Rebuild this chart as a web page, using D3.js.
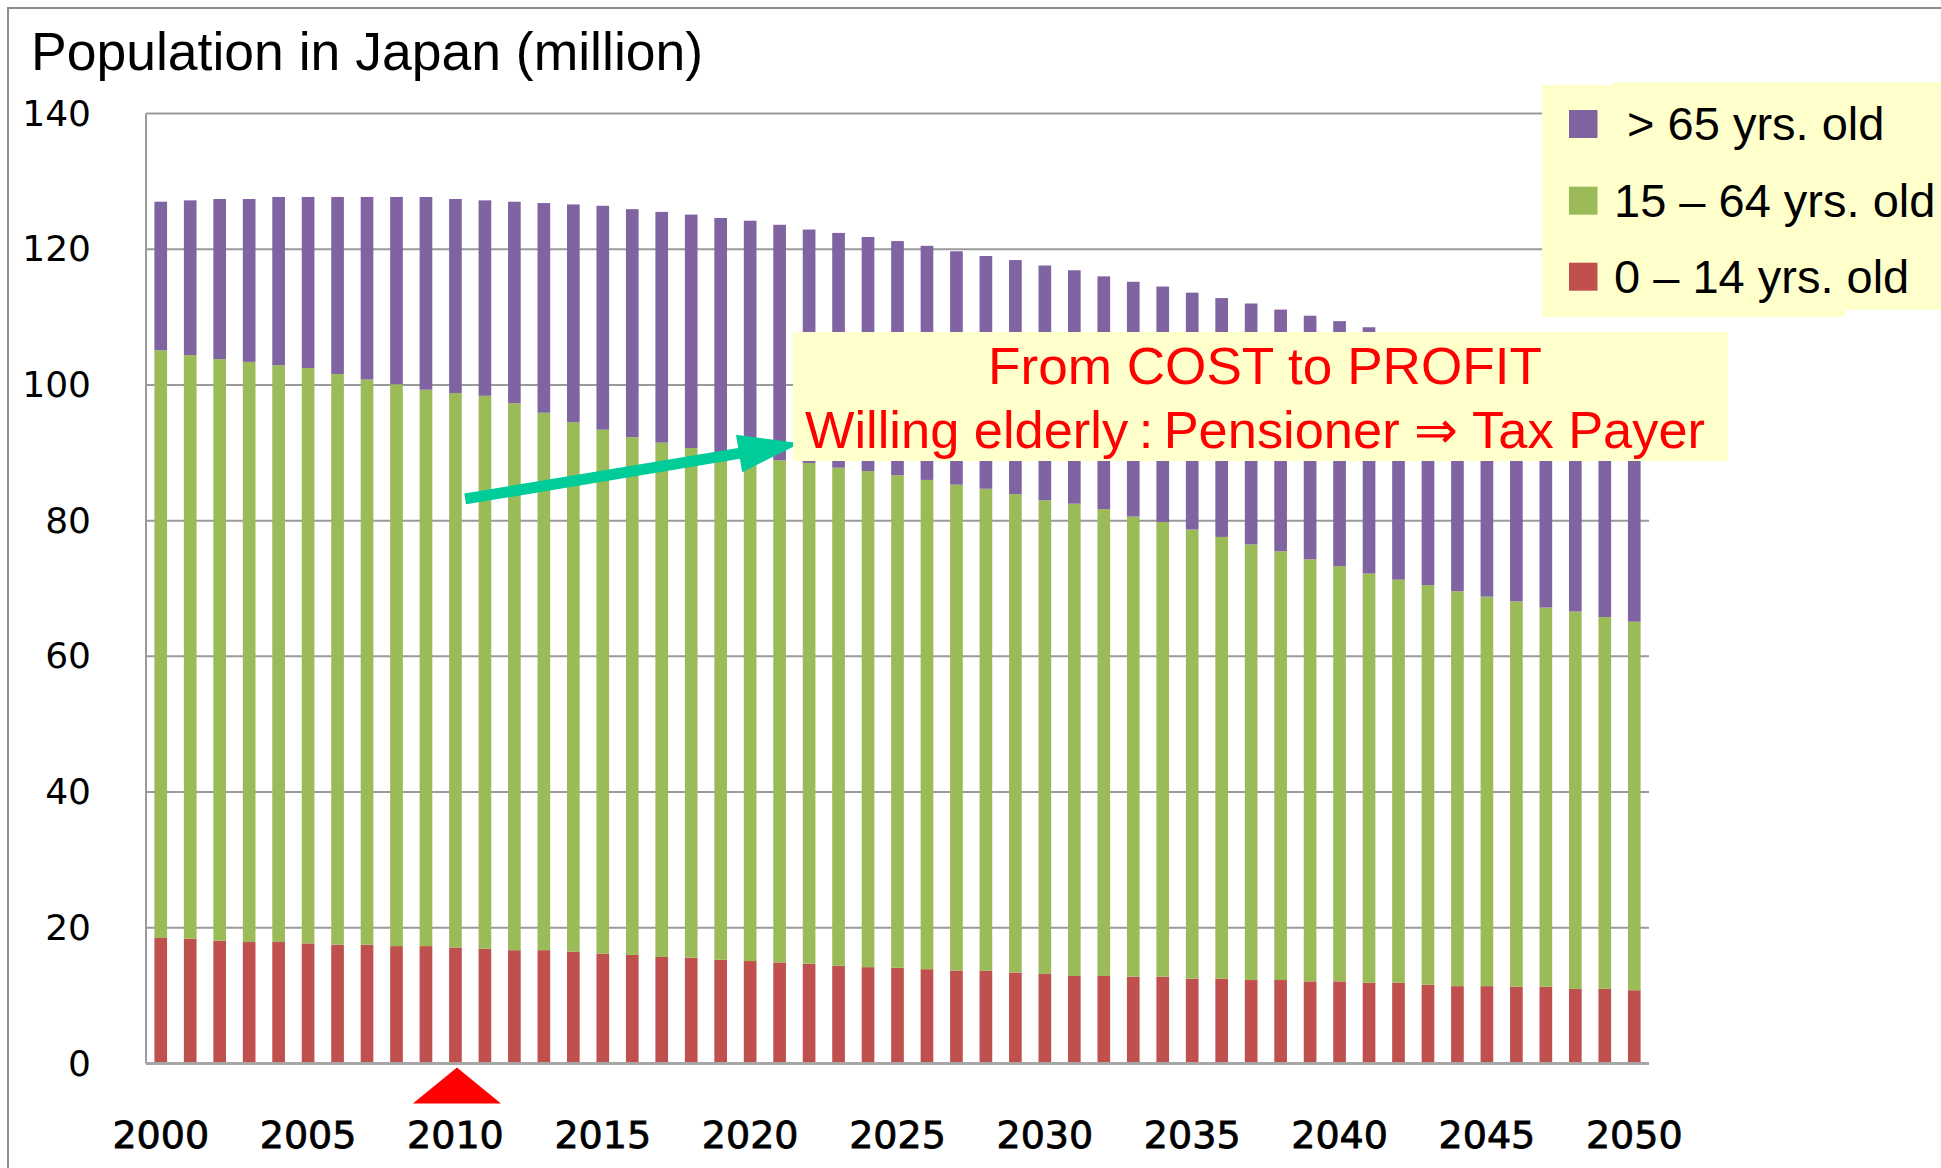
<!DOCTYPE html>
<html><head><meta charset="utf-8">
<script src="https://cdn.jsdelivr.net/npm/d3@7"></script>
<style>html,body{margin:0;padding:0;background:#fff;} svg{display:block}</style>
</head><body>
<svg id="chart" width="1941" height="1168"></svg>
<script>
// ---------- data (million persons) ----------
const years = [2000,2001,2002,2003,2004,2005,2006,2007,2008,2009,
  2010,2011,2012,2013,2014,2015,2016,2017,2018,2019,
  2020,2021,2022,2023,2024,2025,2026,2027,2028,2029,
  2030,2031,2032,2033,2034,2035,2036,2037,2038,2039,
  2040,2041,2042,2043,2044,2045,2046,2047,2048,2049,2050];
const age0to14 = [18.5,18.4,18.1,17.9,17.9,17.7,17.5,17.5,17.3,17.3,
  17.1,16.9,16.7,16.7,16.5,16.2,16.0,15.7,15.6,15.3,
  15.1,14.9,14.7,14.4,14.2,14.1,13.9,13.7,13.7,13.4,
  13.2,12.9,12.9,12.8,12.8,12.5,12.5,12.3,12.3,12.1,
  12.1,11.9,11.9,11.6,11.4,11.4,11.3,11.3,11.0,11.0,10.8];
const age15to64 = [86.6,86.0,85.7,85.5,85.0,84.8,84.1,83.3,82.8,82.0,
  81.7,81.5,80.6,79.2,78.0,77.2,76.3,75.8,75.1,74.7,
  74.3,74.0,73.8,73.4,73.1,72.6,72.1,71.6,71.0,70.5,
  69.8,69.6,68.8,67.8,67.0,66.2,65.1,64.2,63.2,62.2,
  61.2,60.3,59.4,58.9,58.2,57.4,56.8,55.9,55.6,54.8,54.3];
const age65plus = [21.9,22.8,23.6,24.0,24.8,25.2,26.1,26.9,27.6,28.4,
  28.6,28.8,29.7,30.9,32.1,33.0,33.6,34.0,34.4,34.6,
  34.8,34.7,34.4,34.6,34.5,34.5,34.5,34.4,34.3,34.5,
  34.6,34.4,34.3,34.6,34.7,34.9,35.2,35.5,35.6,35.9,
  36.1,36.3,36.3,36.2,36.2,36.1,35.9,35.9,35.6,35.5,35.3];
const seriesKeys = ["young","working","elderly"];
const seriesLabels = ["0 \u2013 14 yrs. old","15 \u2013 64 yrs. old"," > 65 yrs. old"];
const seriesColors = ["#C0504D","#9BBB59","#8064A2"];
const yTicks = [0,20,40,60,80,100,120,140];
const xTickYears = [2000,2005,2010,2015,2020,2025,2030,2035,2040,2045,2050];
const titleText = "Population in Japan (million)";
const noteLines = ["From COST to PROFIT","Willing elderly\u2009:\u2009Pensioner \u21D2 Tax Payer"];
const markedYear = 2010;

// ---------- layout ----------
const svg = d3.select("#chart");
const L = 146, R = 1649, T = 113.5, B = 1063.5;
const x = d3.scaleBand().domain(years).range([L, R]).paddingInner(0.57).paddingOuter(0.285);
const y = d3.scaleLinear().domain([0, 140]).range([B, T]);

const rows = years.map((yr, i) => ({year: yr, young: age0to14[i], working: age15to64[i], elderly: age65plus[i]}));
const stacked = d3.stack().keys(seriesKeys)(rows);

// gridlines
svg.append("g").selectAll("line").data(yTicks.filter(v => v > 0)).join("line")
  .attr("x1", L).attr("x2", R).attr("y1", d => y(d)).attr("y2", d => y(d))
  .attr("stroke", "#9a9a9a").attr("stroke-width", 2);

// bars
svg.append("g").selectAll("g").data(stacked).join("g")
  .attr("fill", (d, i) => seriesColors[i])
  .selectAll("rect").data(d => d).join("rect")
  .attr("x", d => x(d.data.year)).attr("width", x.bandwidth())
  .attr("y", d => y(d[1])).attr("height", d => y(d[0]) - y(d[1]));

// axis lines
svg.append("line").attr("x1", L).attr("x2", L).attr("y1", T).attr("y2", B)
  .attr("stroke", "#9a9a9a").attr("stroke-width", 2);
svg.append("line").attr("x1", L).attr("x2", R).attr("y1", B).attr("y2", B)
  .attr("stroke", "#a6a6a6").attr("stroke-width", 3);

// y axis labels
const yAxis = svg.append("g").attr("transform", `translate(${L},0)`)
  .call(d3.axisLeft(y).tickValues(yTicks).tickSize(0).tickPadding(55));
yAxis.select(".domain").remove();
yAxis.selectAll("text").attr("font-family", "'DejaVu Sans', Verdana, sans-serif")
  .attr("font-size", 36).attr("fill", "#000");

// x axis labels
const xAxis = svg.append("g").attr("transform", `translate(0,${B})`)
  .call(d3.axisBottom(x).tickValues(xTickYears).tickSize(0).tickPadding(58));
xAxis.select(".domain").remove();
xAxis.selectAll("text").attr("font-family", "'DejaVu Sans', Verdana, sans-serif")
  .attr("font-size", 38).attr("fill", "#000").attr("stroke", "#000").attr("stroke-width", 0.8);

// red marker triangle under 2010
const cx = x(markedYear) + x.bandwidth() / 2;
svg.append("path")
  .attr("d", d3.line()([[cx + 1.5, B + 4], [cx + 45.5, B + 40], [cx - 42.5, B + 40]]) + "Z")
  .attr("fill", "#FF0000");

// teal arrow (anchored in data space)
const xc = v => x(Math.floor(v)) + x.bandwidth() / 2 + (v - Math.floor(v)) * x.step();
const tail = [xc(2010.33), y(83.2)], tip = [xc(2021.7), y(91.4)];
(function () {
  const dx = tip[0] - tail[0], dy = tip[1] - tail[1], len = Math.hypot(dx, dy);
  const ux = dx / len, uy = dy / len, nx = -uy, ny = ux;
  const hs = 5.5, hh = 19, hl = 62;
  const bx = tip[0] - ux * hl, by = tip[1] - uy * hl;
  const pts = [[tail[0] + nx * hs, tail[1] + ny * hs], [bx + nx * hs, by + ny * hs], [bx + nx * hh, by + ny * hh],
    tip, [bx - nx * hh, by - ny * hh], [bx - nx * hs, by - ny * hs], [tail[0] - nx * hs, tail[1] - ny * hs]];
  svg.append("path").attr("d", d3.line()(pts) + "Z").attr("fill", "#00CC99");
})();

// annotation box
svg.append("rect").attr("x", 793).attr("y", 332).attr("width", 935).attr("height", 129).attr("fill", "#FFFFCC");
const noteG = svg.append("g").attr("font-family", "'Liberation Sans', Arial, sans-serif").attr("font-size", 52).attr("fill", "#FF0000");
noteG.append("text").attr("x", 1265).attr("y", 384).attr("text-anchor", "middle")
  .attr("textLength", 554).attr("lengthAdjust", "spacingAndGlyphs").text(noteLines[0]);
noteG.append("text").attr("x", 1255).attr("y", 448).attr("text-anchor", "middle")
  .attr("textLength", 900).attr("lengthAdjust", "spacingAndGlyphs").text(noteLines[1]);

// legend
svg.append("rect").attr("x", 1542).attr("y", 85).attr("width", 303).attr("height", 232).attr("fill", "#FFFFCC");
svg.append("rect").attr("x", 1613).attr("y", 82).attr("width", 330).attr("height", 228).attr("fill", "#FFFFCC");
const legendOrder = [2, 1, 0];
const legendBase = [140, 216.7, 292.7];
legendOrder.forEach((si, k) => {
  svg.append("rect").attr("x", 1569).attr("y", legendBase[k] - 30).attr("width", 28.5).attr("height", 28)
    .attr("fill", seriesColors[si]);
  svg.append("text").attr("x", 1614).attr("y", legendBase[k])
    .attr("font-family", "'Liberation Sans', Arial, sans-serif").attr("font-size", 47)
    .style("white-space", "pre").attr("fill", "#000").text(seriesLabels[si]);
});

// title
svg.append("text").attr("x", 31).attr("y", 70)
  .attr("font-family", "'Liberation Sans', Arial, sans-serif").attr("font-size", 53.5)
  .attr("fill", "#000").text(titleText);

// outer frame
svg.append("path").attr("d", "M8,1168V8H1941").attr("fill", "none").attr("stroke", "#8c8c8c").attr("stroke-width", 2);
</script>
</body></html>
